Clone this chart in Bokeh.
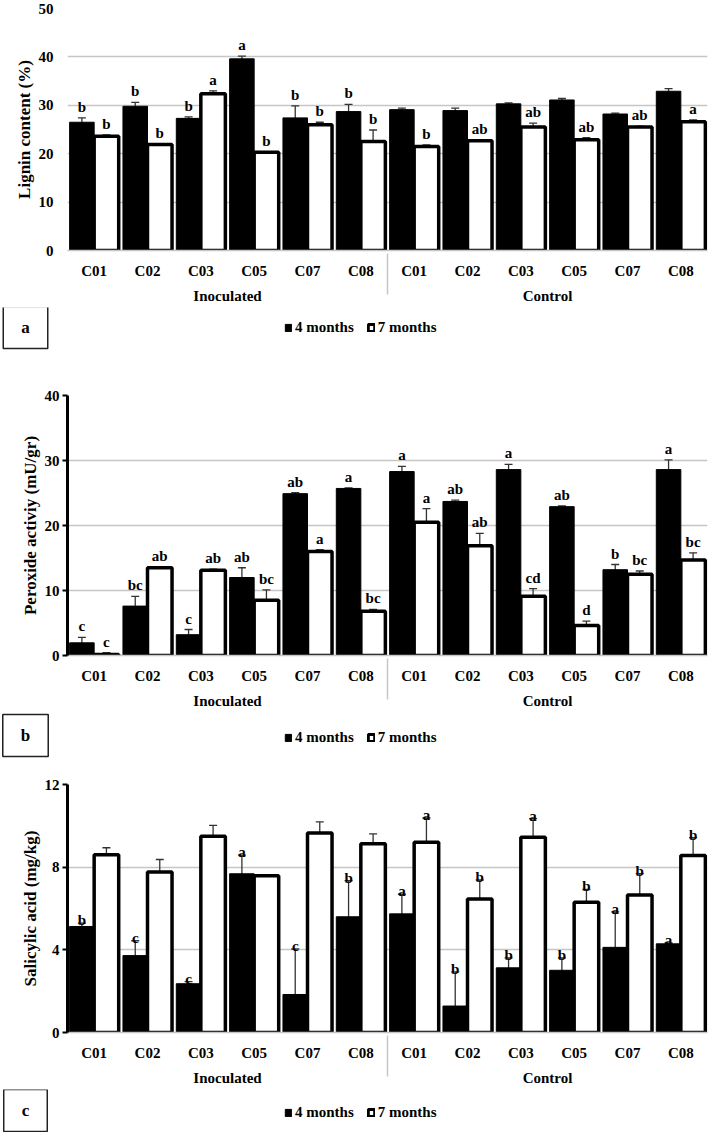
from bokeh.plotting import figure
from bokeh.models import (ColumnDataSource, FactorRange, Whisker, TeeHead, Legend,
                          LegendItem, Label, FixedTicker, Range1d)
from bokeh.transform import dodge
from bokeh.layouts import column
from bokeh.embed import file_html
from bokeh.resources import INLINE
from bokeh.core.properties import value

groups = ["Inoculated", "Control"]
cultivars = ["C01", "C02", "C03", "C05", "C07", "C08"]
series = ["4 months", "7 months"]

# Panel a: lignin content (%)
lignin_4m = [26.5, 29.8, 27.3, 39.6, 27.4, 28.7, 29.1, 28.9, 30.3, 31.1, 28.2, 32.9]
lignin_4m_err = [0.9, 0.8, 0.3, 0.55, 2.5, 1.5, 0.3, 0.5, 0.2, 0.3, 0.2, 0.55]
lignin_7m = [23.6, 21.9, 32.4, 20.3, 26.0, 22.5, 21.5, 22.7, 25.5, 22.9, 25.5, 26.6]
lignin_7m_err = [0.3, 0.2, 0.6, 0.1, 0.5, 2.4, 0.3, 0.2, 0.8, 0.4, 0.2, 0.4]
lignin_4m_letters = ["b", "b", "b", "a", "b", "b", "", "", "", "", "", ""]
lignin_7m_letters = ["b", "b", "a", "b", "b", "b", "b", "ab", "ab", "ab", "ab", "a"]
lignin_ticks = [0, 10, 20, 30, 40, 50]

# Panel b: peroxidase activity (mU/gr)
perox_4m = [1.95, 7.6, 3.2, 12.0, 24.9, 25.7, 28.3, 23.7, 28.6, 22.9, 13.2, 28.6]
perox_4m_err = [0.85, 1.5, 0.8, 1.5, 0.15, 0.1, 0.8, 0.2, 0.8, 0.1, 0.8, 1.5]
perox_7m = [0.15, 13.5, 13.1, 8.5, 16.0, 6.8, 20.5, 16.9, 9.1, 4.6, 12.5, 14.7]
perox_7m_err = [0.3, 0.1, 0.2, 1.6, 0.3, 0.3, 2.1, 1.9, 1.2, 0.7, 0.5, 1.1]
perox_4m_letters = ["c", "bc", "c", "ab", "ab", "a", "a", "ab", "a", "ab", "b", "a"]
perox_7m_letters = ["c", "ab", "ab", "bc", "a", "bc", "a", "ab", "cd", "d", "bc", "bc"]
perox_ticks = [0, 10, 20, 30, 40]

# Panel c: salicylic acid (mg/kg)
sal_4m = [5.13, 3.72, 2.36, 7.68, 1.84, 5.6, 5.74, 1.28, 3.13, 3.01, 4.12, 4.29]
sal_4m_err = [0.16, 0.72, 0.1, 0.9, 2.2, 1.75, 0.95, 1.65, 0.48, 0.6, 1.72, 0.04]
sal_7m = [8.6, 7.77, 9.5, 7.58, 9.65, 9.13, 9.2, 6.46, 9.45, 6.3, 6.65, 8.57]
sal_7m_err = [0.34, 0.6, 0.52, 0.0, 0.54, 0.48, 1.18, 0.92, 0.9, 0.62, 1.04, 0.86]
sal_4m_letters = ["b", "c", "c", "a", "c", "b", "a", "b", "b", "b", "a", "a"]
sal_7m_letters = ["", "", "", "", "", "", "a", "b", "a", "b", "b", "b"]
sal_ticks = [0, 4, 8, 12]

FONT = "Liberation Serif"
GRID = "#c6c6c6"
WIDTH = 709
NAN = float("nan")


def make_panel(ylabel, v4, e4, v7, e7, l4, l7, ticks, btop, frame_h, bbottom,
               axis_line, lab_baseline, lab_offset):
    factors = [(g, c) for g in groups for c in cultivars]
    src = ColumnDataSource(dict(
        x=factors, v4=v4, v7=v7,
        lo4=[v - e for v, e in zip(v4, e4)], hi4=[v + e for v, e in zip(v4, e4)],
        lo7=[v - e for v, e in zip(v7, e7)], hi7=[v + e for v, e in zip(v7, e7)],
        l4=l4, l7=l7,
    ))
    p = figure(x_range=FactorRange(*factors, factor_padding=0, group_padding=0,
                                   subgroup_padding=0, range_padding=0),
               y_range=Range1d(ticks[0], ticks[-1]),
               width=WIDTH, height=btop + frame_h + bbottom, output_backend="svg",
               toolbar_location=None,
               min_border_left=67, min_border_right=2, min_border_top=btop,
               min_border_bottom=bbottom, outline_line_color=None)
    p.xgrid.grid_line_color = None
    p.ygrid.ticker = FixedTicker(ticks=ticks)
    p.ygrid.grid_line_color = GRID
    p.ygrid.grid_line_width = 1.5

    x4 = dodge("x", -0.23, range=p.x_range)
    x7 = dodge("x", 0.23, range=p.x_range)
    p.vbar(x=x4, top="v4", width=0.46, source=src, fill_color="black",
           line_color="black", line_width=1)
    p.vbar(x=x7, top="v7", width=0.46, source=src, fill_color="white",
           line_color="black", line_width=3.5)

    for base, up, lo in ((x4, "hi4", "lo4"), (x7, "hi7", "lo7")):
        w = Whisker(source=src, base=base, upper=up, lower=lo,
                    line_color="#333333", line_width=1.3,
                    upper_head=TeeHead(size=8, line_color="#333333", line_width=1.3),
                    lower_head=TeeHead(size=8, line_color="#333333", line_width=1.3))
        p.add_layout(w)

    for xx, yy, tt in ((x4, "hi4", "l4"), (x7, "hi7", "l7")):
        p.text(x=xx, y=yy, text=tt, source=src, text_font=value(FONT),
               text_font_style="bold", text_font_size="15px", text_color="black",
               text_align="center", text_baseline=lab_baseline, y_offset=lab_offset)

    ya = p.yaxis[0]
    ya.ticker = FixedTicker(ticks=ticks)
    ya.axis_label = ylabel
    ya.axis_label_text_font = FONT
    ya.axis_label_text_font_style = "bold"
    ya.axis_label_text_font_size = "17px"
    ya.axis_label_text_color = "black"
    ya.axis_label_standoff = 2
    ya.major_label_text_font = FONT
    ya.major_label_text_font_style = "bold"
    ya.major_label_text_font_size = "15px"
    ya.major_label_text_color = "black"
    ya.minor_tick_line_color = None
    if axis_line:
        ya.axis_line_color = "black"
        ya.axis_line_width = 3
        ya.major_tick_line_color = "black"
        ya.major_tick_line_width = 2
        ya.major_tick_in = 0
        ya.major_tick_out = 5
        ya.major_label_standoff = 3
    else:
        ya.axis_line_color = None
        ya.major_tick_line_color = None
        ya.major_label_standoff = 8

    xa = p.xaxis[0]
    xa.axis_line_color = GRID
    xa.axis_line_width = 1.5
    xa.major_tick_line_color = None
    xa.minor_tick_line_color = None
    xa.major_label_standoff = 6
    xa.major_label_orientation = "horizontal"
    xa.major_label_text_font = FONT
    xa.major_label_text_font_style = "bold"
    xa.major_label_text_font_size = "15px"
    xa.major_label_text_color = "black"
    xa.group_text_font = FONT
    xa.group_text_font_style = "bold"
    xa.group_text_font_size = "15px"
    xa.group_text_color = "black"
    xa.separator_line_color = GRID
    xa.separator_line_width = 1.5
    return p


def make_strip(tag, height, legend_bottom, box_center_y):
    s = figure(width=WIDTH, height=height, x_range=Range1d(0, 1), y_range=Range1d(0, 1),
               output_backend="svg", toolbar_location=None, x_axis_type=None,
               y_axis_type=None, min_border=0, min_border_left=0, min_border_right=0,
               outline_line_color=None, frame_align=False)
    s.grid.grid_line_color = None
    proxy = ColumnDataSource(dict(x=[NAN], top=[NAN]))
    k4 = s.vbar(x="x", top="top", width=0.1, source=proxy, fill_color="black",
                line_color="black", line_width=1)
    k7 = s.vbar(x="x", top="top", width=0.1, source=proxy, fill_color="white",
                line_color="black", line_width=3)
    legend = Legend(items=[LegendItem(label=series[0], renderers=[k4]),
                           LegendItem(label=series[1], renderers=[k7])],
                    orientation="horizontal", location=(284, legend_bottom),
                    border_line_color=None, background_fill_alpha=0,
                    glyph_width=8, glyph_height=9, label_standoff=3, spacing=13,
                    padding=0, margin=0,
                    label_text_font=FONT, label_text_font_style="bold",
                    label_text_font_size="15px", label_text_color="black")
    s.add_layout(legend)
    box = Label(x=25, y=box_center_y, x_units="screen", y_units="screen", text=tag,
                text_font=FONT, text_font_style="bold", text_font_size="17px",
                text_align="center", text_baseline="middle", text_color="black",
                padding=dict(left=18, right=18, top=11, bottom=12),
                border_line_color="#222222", border_line_width=1.5,
                background_fill_color="white")
    s.add_layout(box)
    return s


pa = make_panel("Lignin content (%)", lignin_4m, lignin_4m_err, lignin_7m, lignin_7m_err,
                lignin_4m_letters, lignin_7m_letters, lignin_ticks,
                8, 242, 57, False, "bottom", -3)
sa = make_strip("a", 65, 36, 45)
pb = make_panel("Peroxide activiy (mU/gr)", perox_4m, perox_4m_err, perox_7m, perox_7m_err,
                perox_4m_letters, perox_7m_letters, perox_ticks,
                23, 260, 57, True, "bottom", -3)
sb = make_strip("b", 48, 14, 25)
pc = make_panel("Salicylic acid (mg/kg)", sal_4m, sal_4m_err, sal_7m, sal_7m_err,
                sal_4m_letters, sal_7m_letters, sal_ticks,
                24, 248, 57, True, "middle", -3)
sc = make_strip("c", 43, 11, 22)

layout = column(pa, sa, pb, sb, pc, sc, spacing=0)
open("out.html", "w").write(file_html(layout, INLINE))
